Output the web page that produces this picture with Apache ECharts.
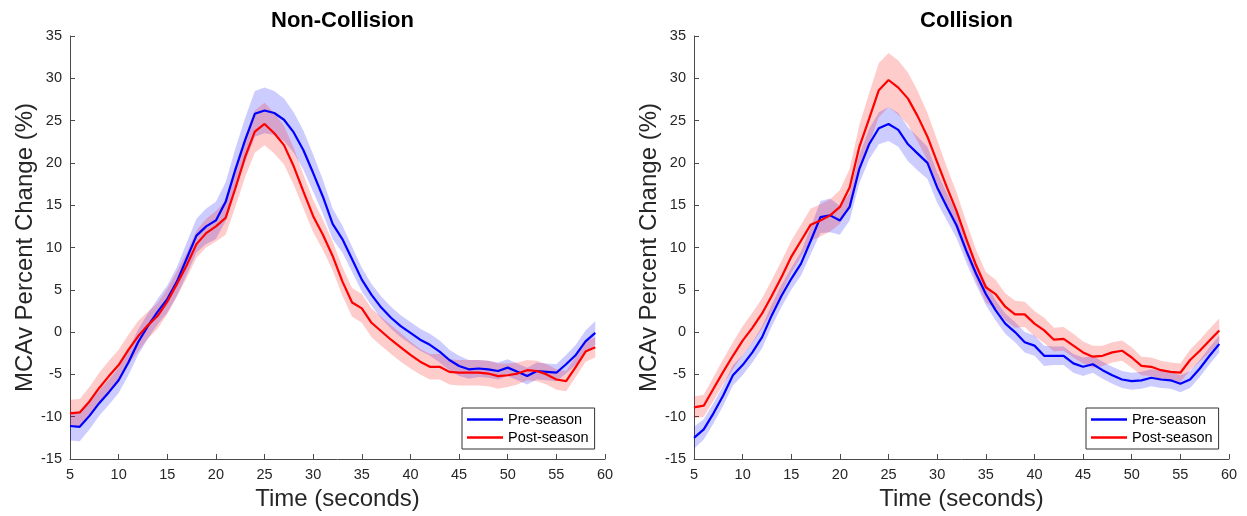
<!DOCTYPE html>
<html>
<head>
<meta charset="utf-8">
<script src="https://cdn.jsdelivr.net/npm/echarts@6/dist/echarts.min.js"></script>
<style>
  html, body { margin: 0; padding: 0; background: #ffffff; }
  #chart { width: 1247px; height: 516px; }
</style>
</head>
<body>
<div id="chart"></div>
<script>
// Time axis (seconds)
const timeSec = [5, 6, 7, 8, 9, 10, 11, 12, 13, 14, 15, 16, 17, 18, 19, 20, 21, 22, 23, 24, 25, 26, 27, 28, 29, 30,
  31, 32, 33, 34, 35, 36, 37, 38, 39, 40, 41, 42, 43, 44, 45, 46, 47, 48, 49, 50, 51, 52, 53, 54, 55, 56, 57, 58, 59];

// Non-collision: mean MCAv percent change and its error band half-width
const nonCollisionPre = [-11.1, -11.2, -9.9, -8.4, -7.1, -5.7, -3.6, -1.2, 0.7, 2.4, 3.9, 6.0, 8.7, 11.4, 12.5, 13.2,
  15.4, 19.2, 22.7, 25.8, 26.2, 25.9, 25.1, 23.6, 21.5, 18.8, 16.0, 12.8, 11.0, 8.6, 6.2, 4.4, 2.9, 1.7, 0.7, -0.1,
  -0.9, -1.5, -2.3, -3.3, -4.0, -4.4, -4.3, -4.4, -4.6, -4.2, -4.7, -5.2, -4.6, -4.7, -4.8, -3.8, -2.7, -1.1, -0.1];
const nonCollisionPreErr = [1.7, 1.7, 1.6, 1.5, 1.5, 1.5, 1.5, 1.5, 1.5, 1.5, 1.6, 1.7, 1.9, 2.0, 2.1, 2.2,
  2.3, 2.5, 2.6, 2.7, 2.7, 2.6, 2.5, 2.4, 2.3, 2.2, 2.0, 1.8, 1.6, 1.5, 1.4, 1.3, 1.3, 1.3, 1.3, 1.3,
  1.3, 1.3, 1.3, 1.2, 1.2, 1.1, 1.0, 1.0, 1.0, 1.0, 1.0, 1.0, 1.0, 1.0, 1.0, 1.1, 1.2, 1.3, 1.4];
const nonCollisionPost = [-9.6, -9.5, -8.2, -6.6, -5.2, -3.9, -2.1, -0.5, 0.8, 1.9, 3.6, 5.7, 7.9, 10.4, 11.7, 12.5,
  13.5, 17.0, 20.7, 23.7, 24.6, 23.5, 22.1, 19.6, 16.6, 13.7, 11.5, 9.0, 6.0, 3.5, 2.8, 1.1, 0.1, -0.9, -1.8, -2.7,
  -3.5, -4.1, -4.1, -4.7, -4.8, -4.8, -4.8, -4.9, -5.2, -5.1, -4.9, -4.5, -4.6, -5.0, -5.6, -5.8, -4.1, -2.3, -1.8];
const nonCollisionPostErr = [1.6, 1.6, 1.7, 1.8, 1.8, 1.8, 1.8, 1.8, 1.6, 1.5, 1.5, 1.5, 1.5, 1.6, 1.7, 1.8,
  2.0, 2.2, 2.4, 2.5, 2.5, 2.4, 2.3, 2.2, 2.0, 1.9, 1.8, 1.7, 1.7, 1.7, 1.7, 1.7, 1.7, 1.7, 1.7, 1.6,
  1.5, 1.5, 1.5, 1.5, 1.5, 1.5, 1.5, 1.5, 1.5, 1.4, 1.3, 1.2, 1.2, 1.2, 1.2, 1.2, 1.2, 1.2, 1.2];

// Collision: mean MCAv percent change and its error band half-width
const collisionPre = [-12.5, -11.5, -9.6, -7.5, -5.1, -3.9, -2.4, -0.6, 2.0, 4.3, 6.3, 8.1, 10.8, 13.6, 13.8, 13.2,
  14.8, 19.3, 22.2, 24.1, 24.6, 23.9, 22.2, 21.1, 20.0, 17.1, 14.8, 12.6, 9.6, 6.9, 4.5, 2.6, 1.0, 0.0, -1.2, -1.6,
  -2.8, -2.8, -2.8, -3.7, -4.1, -3.8, -4.5, -5.1, -5.6, -5.8, -5.7, -5.4, -5.6, -5.7, -6.1, -5.6, -4.3, -2.8, -1.4];
const collisionPreErr = [1.3, 1.2, 1.2, 1.2, 1.2, 1.2, 1.2, 1.3, 1.3, 1.3, 1.3, 1.4, 1.6, 1.9, 2.0, 1.7,
  1.6, 1.7, 1.8, 1.9, 2.0, 2.0, 2.0, 2.0, 1.9, 1.8, 1.6, 1.5, 1.4, 1.3, 1.3, 1.2, 1.2, 1.2, 1.2, 1.2,
  1.2, 1.1, 1.1, 1.1, 1.1, 1.0, 1.0, 1.0, 1.0, 1.0, 1.0, 1.0, 1.0, 1.0, 1.0, 1.0, 1.0, 1.0, 1.0];
const collisionPost = [-8.9, -8.7, -6.7, -4.7, -2.8, -1.0, 0.5, 2.2, 4.3, 6.5, 8.9, 10.8, 12.7, 13.2, 13.8, 14.8,
  17.1, 21.9, 25.2, 28.6, 29.8, 28.9, 27.6, 25.5, 23.1, 20.1, 17.1, 14.3, 11.0, 7.9, 5.3, 4.5, 3.0, 2.1, 2.1, 1.0,
  0.2, -0.9, -0.8, -1.6, -2.4, -2.9, -2.8, -2.4, -2.2, -3.0, -4.0, -4.1, -4.5, -4.7, -4.8, -3.3, -2.2, -1.0, 0.2];
const collisionPostErr = [1.3, 1.3, 1.4, 1.5, 1.6, 1.7, 1.8, 1.8, 1.9, 1.9, 1.9, 1.9, 1.9, 1.9, 1.9, 2.0,
  2.2, 2.6, 3.0, 3.2, 3.2, 3.2, 3.1, 3.0, 2.8, 2.6, 2.4, 2.2, 2.0, 1.8, 1.8, 1.7, 1.6, 1.6, 1.5, 1.5,
  1.5, 1.4, 1.4, 1.4, 1.3, 1.3, 1.2, 1.2, 1.2, 1.2, 1.1, 1.1, 1.1, 1.1, 1.1, 1.2, 1.3, 1.4, 1.4];

const panelTitles = ['Non-Collision', 'Collision'];
const seriesNames = ['Pre-season', 'Post-season'];
const xTicks = { min: 5, max: 60, interval: 5 };
const yTicks = { min: -15, max: 35, interval: 5 };

const FONT = "'Liberation Sans', Arial, Helvetica, sans-serif";
const BLUE = '#0000ff';
const RED = '#ff0000';
const BLUE_FILL = 'rgba(0, 0, 255, 0.2)';
const RED_FILL = 'rgba(255, 0, 0, 0.2)';
const AXIS_COLOR = '#4a4a4a';
const LABEL_COLOR = '#262626';

const panels = [
  { pre: nonCollisionPre, preErr: nonCollisionPreErr, post: nonCollisionPost, postErr: nonCollisionPostErr },
  { pre: collisionPre, preErr: collisionPreErr, post: collisionPost, postErr: collisionPostErr }
];

const grids = [
  { left: 70, top: 36, width: 535, height: 423, outerBoundsMode: 'none', containLabel: false },
  { left: 694, top: 36, width: 535, height: 423, outerBoundsMode: 'none', containLabel: false }
];

// Shaded band: one polygon along the upper edge left-to-right, then the lower edge back
function bandSeries(name, gridIdx, mean, err, fill) {
  const rows = timeSec.map((t, i) => [t, mean[i] - err[i], mean[i] + err[i]]);
  return {
    name: name,
    type: 'custom',
    xAxisIndex: gridIdx,
    yAxisIndex: gridIdx,
    silent: true,
    z: 1,
    data: rows,
    encode: { x: 0, y: [1, 2] },
    renderItem: function (params, api) {
      if (params.dataIndex !== 0) return null;
      const pts = [];
      for (let i = 0; i < rows.length; i++) pts.push(api.coord([rows[i][0], rows[i][2]]));
      for (let i = rows.length - 1; i >= 0; i--) pts.push(api.coord([rows[i][0], rows[i][1]]));
      return {
        type: 'polygon',
        shape: { points: pts },
        style: { fill: fill, stroke: null }
      };
    }
  };
}

function lineSeries(name, gridIdx, mean, color) {
  return {
    name: name,
    type: 'line',
    xAxisIndex: gridIdx,
    yAxisIndex: gridIdx,
    z: 3,
    symbol: 'none',
    animation: false,
    lineStyle: { color: color, width: 2.2 },
    itemStyle: { color: color },
    data: timeSec.map((t, i) => [t, mean[i]])
  };
}

const series = [];
panels.forEach((p, g) => {
  series.push(bandSeries('Pre-season band', g, p.pre, p.preErr, BLUE_FILL));
  series.push(bandSeries('Post-season band', g, p.post, p.postErr, RED_FILL));
  series.push(lineSeries(seriesNames[0], g, p.pre, BLUE));
  series.push(lineSeries(seriesNames[1], g, p.post, RED));
});

const axisCommon = {
  axisLine: { show: true, onZero: false, lineStyle: { color: AXIS_COLOR, width: 1 } },
  axisTick: { show: true, inside: true, length: 5, lineStyle: { color: AXIS_COLOR } },
  splitLine: { show: false },
  axisLabel: { color: LABEL_COLOR, fontSize: 14.5, fontFamily: FONT }
};

const xAxes = grids.map((_, g) => Object.assign({}, axisCommon, {
  type: 'value', gridIndex: g,
  min: xTicks.min, max: xTicks.max, interval: xTicks.interval,
  name: 'Time (seconds)', nameLocation: 'middle', nameGap: 25,
  nameTextStyle: { fontSize: 24, color: LABEL_COLOR, fontFamily: FONT },
  axisLabel: Object.assign({}, axisCommon.axisLabel, { margin: 8 })
}));

const yAxes = grids.map((_, g) => Object.assign({}, axisCommon, {
  type: 'value', gridIndex: g,
  min: yTicks.min, max: yTicks.max, interval: yTicks.interval,
  name: 'MCAv Percent Change (%)', nameLocation: 'middle', nameGap: 32,
  nameTextStyle: { fontSize: 24, color: LABEL_COLOR, fontFamily: FONT },
  axisLabel: Object.assign({}, axisCommon.axisLabel, { margin: 8 })
}));

const titles = panelTitles.map((t, g) => ({
  text: t,
  left: grids[g].left + grids[g].width / 2,
  top: 5,
  textAlign: 'center',
  textStyle: { fontSize: 22, fontWeight: 'bold', color: '#000000', fontFamily: FONT }
}));

const legends = grids.map((gr, g) => ({
  data: seriesNames,
  orient: 'vertical',
  left: gr.left + gr.width - 143,
  top: 408,
  icon: 'rect',
  itemWidth: 36,
  itemHeight: 2.5,
  itemGap: 3,
  padding: [4, 6, 4, 5],
  borderColor: '#333333',
  borderWidth: 1,
  backgroundColor: '#ffffff',
  selectedMode: false,
  textStyle: { fontSize: 14.5, color: '#000000', fontFamily: FONT }
}));

const chart = echarts.init(document.getElementById('chart'), null, { renderer: 'canvas' });
chart.setOption({
  animation: false,
  backgroundColor: '#ffffff',
  title: titles,
  legend: legends,
  grid: grids,
  xAxis: xAxes,
  yAxis: yAxes,
  series: series
});
</script>
</body>
</html>
